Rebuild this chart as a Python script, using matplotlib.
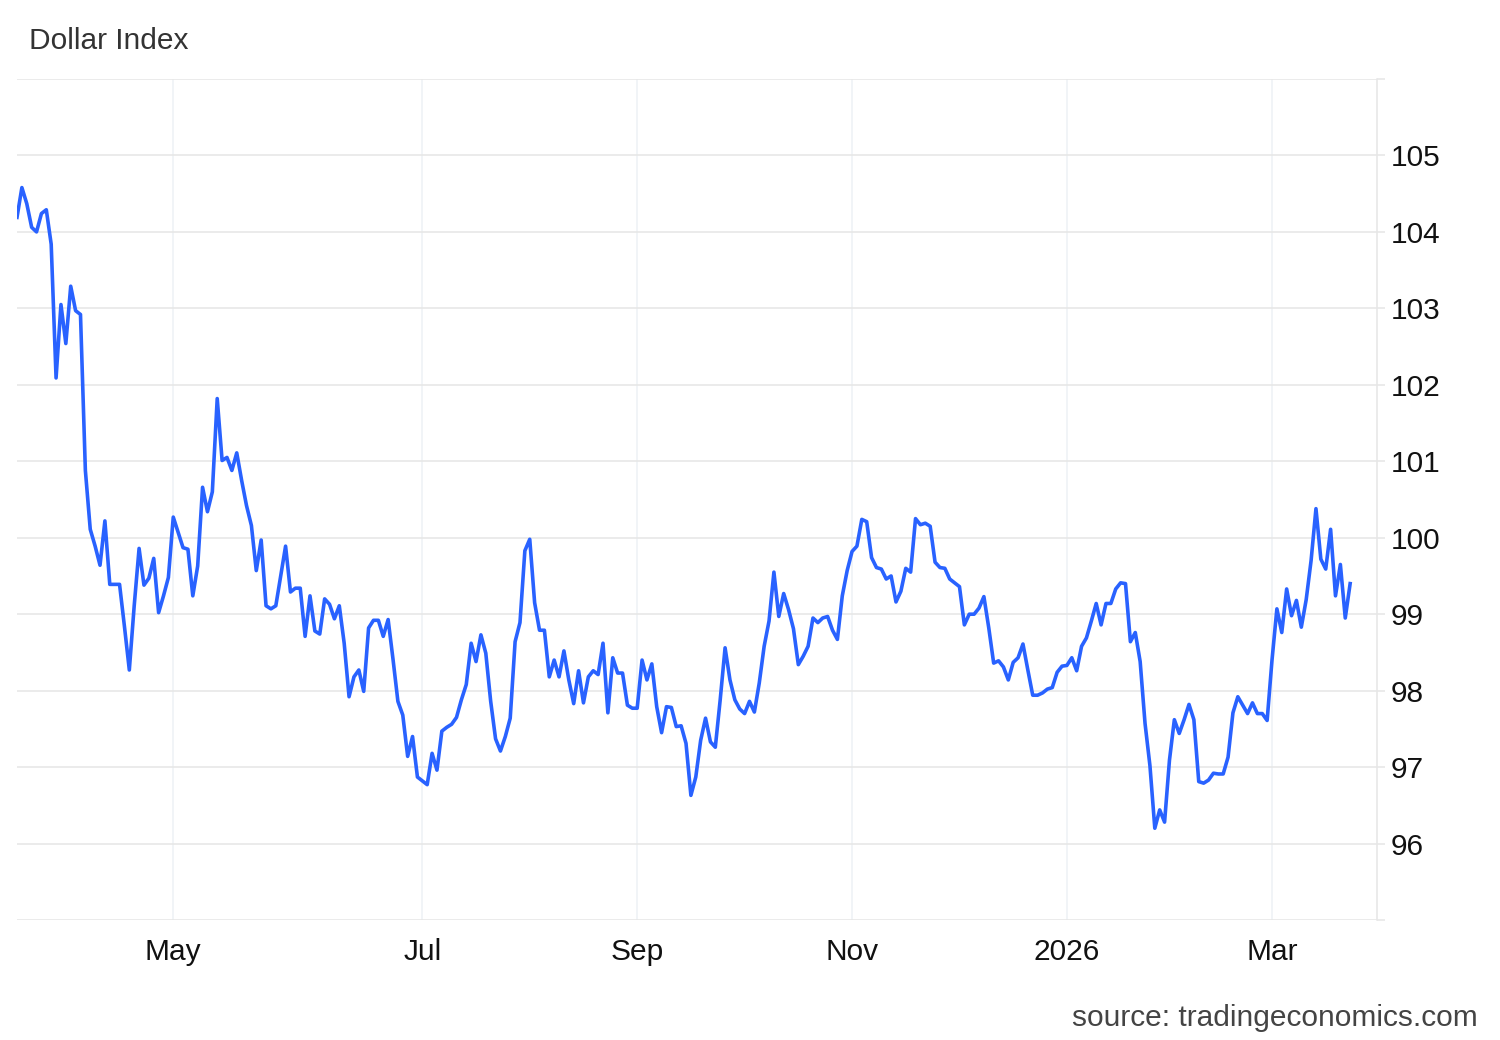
import numpy as np
import matplotlib.pyplot as plt

plt.rcParams['font.family'] = ['Liberation Sans', 'DejaVu Sans']

dxy = [
    104.19, 104.58, 104.37, 104.06, 104.00, 104.24, 104.29, 103.84, 102.09, 103.05,
    102.54, 103.29, 102.97, 102.92, 100.88, 100.11, 99.89, 99.64, 100.22, 99.39,
    99.39, 99.39, 98.84, 98.27, 99.11, 99.86, 99.38, 99.47, 99.73, 99.02,
    99.24, 99.48, 100.27, 100.07, 99.87, 99.85, 99.24, 99.63, 100.66, 100.34,
    100.60, 101.82, 101.01, 101.05, 100.88, 101.11, 100.75, 100.42, 100.16, 99.57,
    99.97, 99.11, 99.07, 99.11, 99.50, 99.89, 99.29, 99.34, 99.34, 98.71,
    99.24, 98.78, 98.74, 99.20, 99.13, 98.94, 99.11, 98.62, 97.92, 98.18,
    98.27, 97.99, 98.82, 98.92, 98.92, 98.71, 98.93, 98.41, 97.86, 97.68,
    97.14, 97.40, 96.87, 96.82, 96.77, 97.18, 96.96, 97.47, 97.52, 97.56,
    97.65, 97.88, 98.08, 98.62, 98.38, 98.73, 98.49, 97.86, 97.37, 97.21,
    97.40, 97.64, 98.64, 98.89, 99.83, 99.98, 99.15, 98.79, 98.79, 98.18,
    98.40, 98.18, 98.52, 98.14, 97.83, 98.26, 97.84, 98.18, 98.26, 98.21,
    98.62, 97.71, 98.43, 98.23, 98.23, 97.81, 97.77, 97.77, 98.40, 98.14,
    98.35, 97.79, 97.45, 97.79, 97.78, 97.53, 97.54, 97.31, 96.63, 96.87,
    97.35, 97.64, 97.33, 97.26, 97.88, 98.56, 98.14, 97.88, 97.76, 97.70,
    97.86, 97.72, 98.10, 98.58, 98.91, 99.55, 98.97, 99.27, 99.06, 98.81,
    98.34, 98.45, 98.58, 98.95, 98.89, 98.95, 98.97, 98.79, 98.67, 99.24,
    99.57, 99.82, 99.89, 100.24, 100.21, 99.74, 99.61, 99.59, 99.46, 99.50,
    99.16, 99.30, 99.60, 99.55, 100.25, 100.17, 100.19, 100.15, 99.68, 99.61,
    99.60, 99.46, 99.41, 99.36, 98.86, 99.00, 99.00, 99.08, 99.23, 98.82,
    98.36, 98.39, 98.31, 98.14, 98.37, 98.43, 98.61, 98.27, 97.94, 97.94,
    97.97, 98.02, 98.04, 98.24, 98.32, 98.33, 98.43, 98.26, 98.58, 98.69,
    98.91, 99.14, 98.86, 99.14, 99.14, 99.33, 99.41, 99.40, 98.64, 98.76,
    98.38, 97.57, 97.02, 96.20, 96.44, 96.28, 97.09, 97.62, 97.44, 97.62,
    97.82, 97.62, 96.81, 96.79, 96.83, 96.92, 96.91, 96.91, 97.13, 97.71,
    97.92, 97.81, 97.70, 97.84, 97.70, 97.70, 97.61, 98.40, 99.07, 98.76,
    99.33, 98.98, 99.18, 98.83, 99.19, 99.70, 100.38, 99.72, 99.59, 100.11,
    99.24, 99.65, 98.95, 99.40,
]

# month labels and the observation they fall on
tick_labels = ['May', 'Jul', 'Sep', 'Nov', '2026', 'Mar']
tick_index = [32, 83, 127, 171, 215, 257]

y_ticks = list(range(95, 107))
y_labels = ['' if v in (95, 106) else str(v) for v in y_ticks]

fig = plt.figure(figsize=(15, 10.4), dpi=100)
ax = fig.add_axes([17 / 1500, 120 / 1040, 1360 / 1500, 841 / 1040])

x = np.arange(len(dxy))
ax.plot(x, dxy, color='#2962ff', lw=2.6)

ax.set_xlim(0, 278.5)
ax.set_ylim(95, 106)

ax.set_yticks(y_ticks)
ax.set_yticklabels(y_labels)
ax.yaxis.tick_right()
ax.tick_params(axis='y', length=5.8, width=1.1, color='#e6e6e6', pad=4,
               labelsize=21.5, labelcolor='#111111')

ax.set_xticks(tick_index)
ax.set_xticklabels(tick_labels)
ax.tick_params(axis='x', length=0, pad=13, labelsize=21.5, labelcolor='#111111')

ax.grid(axis='y', color='#e6e6e6', lw=1.1)
ax.grid(axis='x', color='#eef1f5', lw=1.1)
ax.set_axisbelow(True)

for s in ['left', 'top', 'bottom']:
    ax.spines[s].set_visible(False)
ax.spines['right'].set_color('#e6e6e6')
ax.spines['right'].set_linewidth(1.1)

fig.text(29 / 1500, 1 - 41 / 1040, 'Dollar Index', ha='left', va='center',
         fontsize=21.5, color='#333333')
fig.text(1478 / 1500, 1 - 1018 / 1040, 'source: tradingeconomics.com',
         ha='right', va='center', fontsize=21.5, color='#444444')

fig.savefig('out.png', dpi=100)
